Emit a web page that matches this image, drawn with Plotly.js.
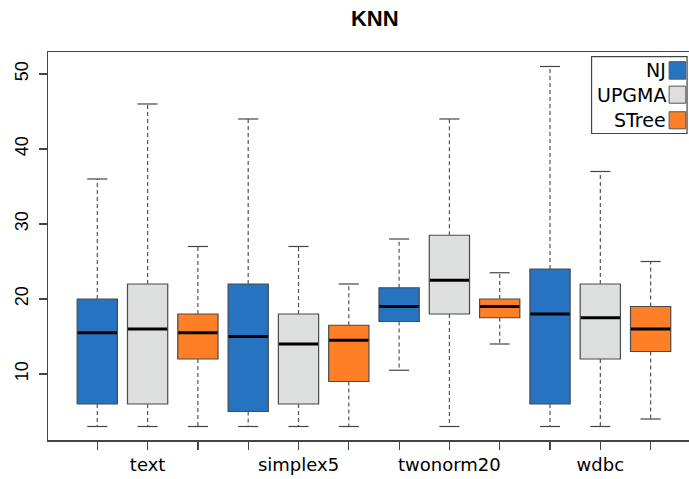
<!DOCTYPE html>
<html><head><meta charset="utf-8">
<script src="https://cdn.plot.ly/plotly-3.0.1.min.js"></script>
<style>html,body{margin:0;padding:0;background:#fff}</style>
</head><body>
<div id="chart" style="width:689px;height:479px"></div>
<script>
const categories = ['text', 'simplex5', 'twonorm20', 'wdbc'];
const methods = ['NJ', 'UPGMA', 'STree'];
const colors = ['#2673C2', '#DCDFDE', '#FF7F27'];
// per method, one value per category
const lower = { NJ: [3, 3, 10.5, 3], UPGMA: [3, 3, 3, 3], STree: [3, 3, 14, 4] };
const q1 = { NJ: [6, 5, 17, 6], UPGMA: [6, 6, 18, 12], STree: [12, 9, 17.5, 13] };
const median = { NJ: [15.5, 15, 19, 18], UPGMA: [16, 14, 22.5, 17.5], STree: [15.5, 14.5, 19, 16] };
const q3 = { NJ: [20, 22, 21.5, 24], UPGMA: [22, 18, 28.5, 22], STree: [18, 16.5, 20, 19] };
const upper = { NJ: [36, 44, 28, 51], UPGMA: [46, 27, 44, 37], STree: [27, 22, 23.5, 25] };

const boxW = 0.8, capW = 0.4;
const traces = [];
const whX = [], whY = [], capX = [], capY = [], medX = [], medY = [];
methods.forEach((m, j) => {
  const xs = categories.map((c, i) => i * 3 + j + 1);
  traces.push({
    type: 'bar', x: xs, base: q1[m], y: q3[m].map((v, i) => v - q1[m][i]),
    width: boxW, marker: { color: colors[j], line: { color: '#4a4a4a', width: 1.2 } },
    showlegend: false, hoverinfo: 'skip'
  });
  xs.forEach((x, i) => {
    whX.push(x, x, null, x, x, null);
    whY.push(q3[m][i], upper[m][i], null, q1[m][i], lower[m][i], null);
    capX.push(x - capW / 2, x + capW / 2, null, x - capW / 2, x + capW / 2, null);
    capY.push(upper[m][i], upper[m][i], null, lower[m][i], lower[m][i], null);
    medX.push(x - boxW / 2 + 0.01, x + boxW / 2 - 0.01, null);
    medY.push(median[m][i], median[m][i], null);
  });
});
traces.push({ type: 'scatter', mode: 'lines', x: whX, y: whY, connectgaps: false,
  line: { color: '#555', width: 1.2, dash: '4px,3px' }, showlegend: false, hoverinfo: 'skip' });
traces.push({ type: 'scatter', mode: 'lines', x: capX, y: capY, connectgaps: false,
  line: { color: '#444', width: 1.2 }, showlegend: false, hoverinfo: 'skip' });
traces.push({ type: 'scatter', mode: 'lines', x: medX, y: medY, connectgaps: false,
  line: { color: '#000', width: 3.2 }, showlegend: false, hoverinfo: 'skip' });

const tickvals = [], ticktext = [];
categories.forEach((c, i) => methods.forEach((m, j) => {
  tickvals.push(i * 3 + j + 1);
  ticktext.push(j === 1 ? c : '');
}));

// legend drawn manually (symbol to the right of text, as in R)
const shapes = [{ type: 'rect', xref: 'paper', yref: 'paper', x0: 0.848, x1: 0.997, y0: 0.790, y1: 0.988,
  line: { color: '#444', width: 1.2 }, fillcolor: '#fff' }];
const annotations = [];
const legY = [[0.930, 0.975], [0.868, 0.912], [0.802, 0.846]];
methods.forEach((m, j) => {
  shapes.push({ type: 'rect', xref: 'paper', yref: 'paper', x0: 0.969, x1: 0.995,
    y0: legY[j][0], y1: legY[j][1], fillcolor: colors[j], line: { color: '#555', width: 1 } });
  annotations.push({ xref: 'paper', yref: 'paper', x: 0.967, y: (legY[j][0] + legY[j][1]) / 2,
    xanchor: 'right', yanchor: 'middle', showarrow: false, text: m,
    font: { family: 'DejaVu Sans', size: 19, color: '#000' } });
});

const layout = {
  width: 689, height: 479,
  margin: { l: 48, r: 0, t: 52, b: 39 },
  paper_bgcolor: '#fff', plot_bgcolor: '#fff',
  barmode: 'overlay',
  title: { text: '<b>KNN</b>', x: 0.544, xanchor: 'center', y: 0.962, yanchor: 'middle',
    font: { family: 'Liberation Sans', size: 22, color: '#000' } },
  xaxis: { range: [0.02, 12.763], tickmode: 'array', tickvals: tickvals, ticktext: ticktext,
    showgrid: false, zeroline: false, showline: true, mirror: true, linecolor: '#444', linewidth: 1.5,
    ticks: 'outside', ticklen: 8, tickcolor: '#444', tickwidth: 1.2,
    tickfont: { family: 'DejaVu Sans', size: 18, color: '#000' } },
  yaxis: { range: [1.2, 52.93], tickvals: [10, 20, 30, 40, 50], tickangle: -90,
    showgrid: false, zeroline: false, showline: true, linecolor: '#444', linewidth: 1.5,
    ticks: 'outside', ticklen: 8, tickcolor: '#444', tickwidth: 1.2, ticklabelstandoff: 3,
    tickfont: { family: 'Liberation Sans', size: 18, color: '#000' } },
  shapes: shapes, annotations: annotations
};
Plotly.newPlot('chart', traces, layout, { displayModeBar: false, staticPlot: true });
</script>
</body></html>
